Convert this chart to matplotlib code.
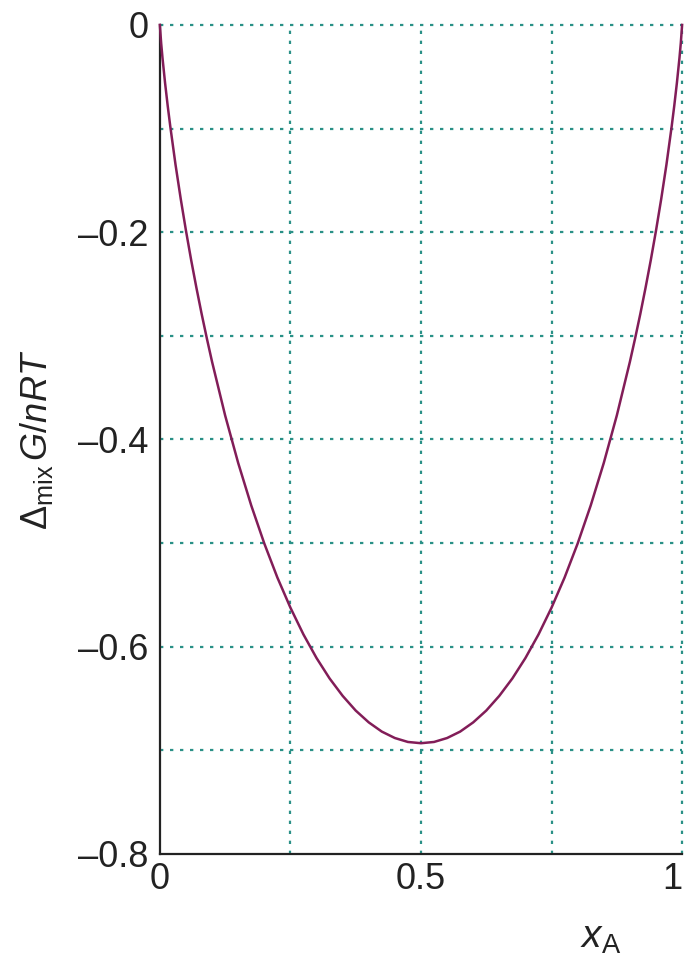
import numpy as np
import matplotlib
matplotlib.use("Agg")
import matplotlib.pyplot as plt

# ── Data ──────────────────────────────────────────────────────────────────────
x_a = [0.0, 0.0025, 0.005, 0.01, 0.015, 0.02, 0.03, 0.04, 0.05, 0.06, 0.07,
       0.08, 0.09, 0.1, 0.125, 0.15, 0.175, 0.2, 0.225, 0.25, 0.275, 0.3,
       0.325, 0.35, 0.375, 0.4, 0.425, 0.45, 0.475, 0.5,
       0.525, 0.55, 0.575, 0.6, 0.625, 0.65, 0.675, 0.7, 0.725, 0.75, 0.775,
       0.8, 0.825, 0.85, 0.875, 0.9, 0.91, 0.92, 0.93, 0.94, 0.95, 0.96, 0.97,
       0.98, 0.985, 0.99, 0.995, 0.9975, 1.0]
g_mix = [0.0, -0.0175, -0.0315, -0.0560, -0.0779, -0.0980, -0.1348, -0.1679,
         -0.1985, -0.2270, -0.2536, -0.2788, -0.3025, -0.3251, -0.3768, -0.4227,
         -0.4637, -0.5004, -0.5332, -0.5623, -0.5882, -0.6109, -0.6306, -0.6474,
         -0.6616, -0.6730, -0.6819, -0.6881, -0.6919, -0.6931,
         -0.6919, -0.6881, -0.6819, -0.6730, -0.6616, -0.6474, -0.6306, -0.6109,
         -0.5882, -0.5623, -0.5332, -0.5004, -0.4637, -0.4227, -0.3768, -0.3251,
         -0.3025, -0.2788, -0.2536, -0.2270, -0.1985, -0.1679, -0.1348, -0.0980,
         -0.0779, -0.0560, -0.0315, -0.0175, 0.0]

x_ticks = [0, 0.5, 1]
x_ticklabels = ["0", "0.5", "1"]
y_ticks = [0, -0.2, -0.4, -0.6, -0.8]
y_ticklabels = ["0", "\u20130.2", "\u20130.4", "\u20130.6", "\u20130.8"]
x_grid = [0.25, 0.5, 0.75, 1.0]
y_grid = [0, -0.1, -0.2, -0.3, -0.4, -0.5, -0.6, -0.7]

# ── Style ─────────────────────────────────────────────────────────────────────
plt.rcParams["font.family"] = ["Liberation Sans", "DejaVu Sans"]
plt.rcParams["mathtext.fontset"] = "custom"
plt.rcParams["mathtext.rm"] = "Liberation Sans"
plt.rcParams["mathtext.it"] = "Liberation Sans:italic"

CURVE_COL = "#821d58"
GRID_COL = "#2a9187"
TEXT_COL = "#222222"

fig = plt.figure(figsize=(6.89, 9.59), dpi=100, facecolor="white")
ax = fig.add_axes([0.232, 0.1095, 0.758, 0.8645])

# grid lines (dotted, teal)
for gx in x_grid:
    ax.axvline(gx, color=GRID_COL, linestyle=(0, (1.5, 3)), linewidth=1.6,
               zorder=1, clip_on=False)
for gy in y_grid:
    ax.axhline(gy, color=GRID_COL, linestyle=(0, (1.5, 3)), linewidth=1.6,
               zorder=1, clip_on=False)

ax.plot(x_a, g_mix, color=CURVE_COL, linewidth=1.8, zorder=3, clip_on=False)

ax.set_xlim(0, 1)
ax.set_ylim(-0.8, 0)
ax.set_xticks(x_ticks)
ax.set_xticklabels(x_ticklabels)
ax.set_yticks(y_ticks)
ax.set_yticklabels(y_ticklabels)
ax.tick_params(length=0, labelsize=26, colors=TEXT_COL)
ax.tick_params(axis="y", pad=8)
ax.tick_params(axis="x", pad=6)
ax.get_xticklabels()[-1].set_horizontalalignment("right")

for side in ["top", "right"]:
    ax.spines[side].set_visible(False)
for side in ["left", "bottom"]:
    ax.spines[side].set_color("#222222")
    ax.spines[side].set_linewidth(1.6)

ax.set_ylabel(r"$\mathrm{\Delta}_{\mathrm{mix}}\,G/nRT$", fontsize=26, color=TEXT_COL)
ax.yaxis.set_label_coords(-0.2, 0.5)
ax.set_xlabel(r"$x_{\mathrm{A}}$", fontsize=28, color=TEXT_COL)
ax.xaxis.set_label_coords(0.843, -0.08)

fig.savefig("out.png", dpi=100, facecolor="white")
